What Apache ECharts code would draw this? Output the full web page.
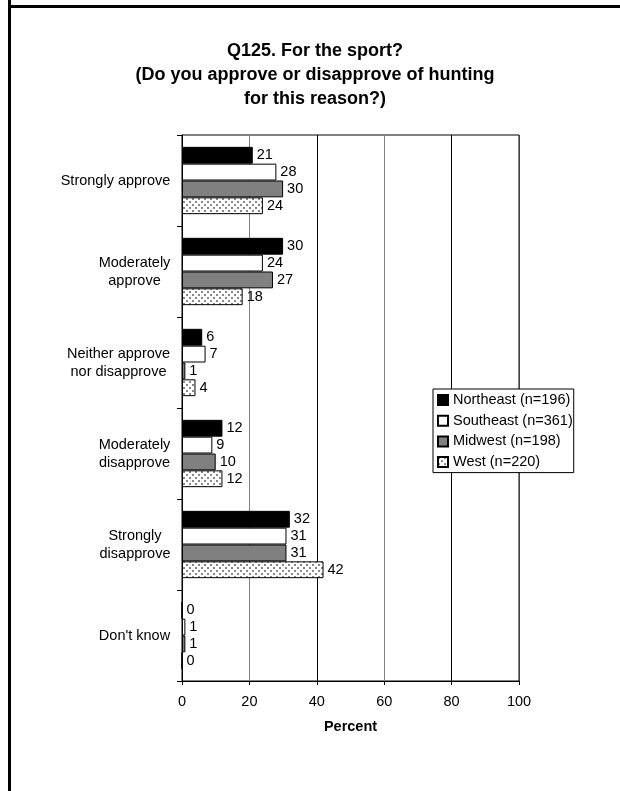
<!DOCTYPE html>
<html>
<head>
<meta charset="utf-8">
<script src="https://cdn.jsdelivr.net/npm/echarts@6/dist/echarts.min.js"></script>
<style>
html,body{margin:0;padding:0;background:#fff;}
#chart{width:620px;height:791px;}
</style>
</head>
<body>
<div id="chart"></div>
<script>
// ---- data ----
var categories = ['Strongly approve', 'Moderately\napprove', 'Neither approve\nnor disapprove', 'Moderately\ndisapprove', 'Strongly\ndisapprove', "Don't know"];
var seriesNames = ['Northeast (n=196)', 'Southeast (n=361)', 'Midwest (n=198)', 'West (n=220)'];
var northeast = [21, 30, 6, 12, 32, 0];
var southeast = [28, 24, 7, 9, 31, 1];
var midwest = [30, 27, 1, 10, 31, 1];
var west = [24, 18, 4, 12, 42, 0];
var xTicks = [0, 20, 40, 60, 80, 100];

var FONT = '"Liberation Sans", Arial, sans-serif';
var FS = 14.5;

// dotted pattern for West
var pat = document.createElement('canvas');
pat.width = 6; pat.height = 6;
var pc = pat.getContext('2d');
pc.fillStyle = '#fff'; pc.fillRect(0, 0, 6, 6);
pc.fillStyle = '#888';
pc.fillRect(0, 0, 2, 2);
pc.fillRect(3, 3, 2, 2);

// measure for centered multi-line category labels
var mc = document.createElement('canvas').getContext('2d');
mc.font = FS + 'px ' + FONT;
var rich = {};
categories.forEach(function (c, i) {
  var w = 0;
  c.split('\n').forEach(function (l) { w = Math.max(w, mc.measureText(l).width); });
  rich['c' + i] = { width: Math.ceil(w) + 1, align: 'center', fontSize: FS, lineHeight: 18, color: '#000', fontFamily: FONT };
});

var fills = ['#000000', '#ffffff', '#808080', { image: pat, repeat: 'repeat' }];
var datas = [northeast, southeast, midwest, west];

var series = seriesNames.map(function (n, i) {
  return {
    name: n,
    type: 'bar',
    data: datas[i],
    barGap: '0%',
    barCategoryGap: '26%',
    itemStyle: { color: fills[i], borderColor: '#000', borderWidth: 1 },
    label: { show: true, position: 'right', distance: 4, color: '#000', fontSize: FS, fontFamily: FONT },
    animation: false
  };
});

var chart = echarts.init(document.getElementById('chart'), null, { renderer: 'canvas' });
chart.setOption({
  backgroundColor: '#fff',
  animation: false,
  title: {
    text: 'Q125. For the sport?\n(Do you approve or disapprove of hunting\nfor this reason?)',
    left: 310, top: 34, textAlign: 'center',
    textStyle: { fontSize: 18, fontWeight: 'bold', fontFamily: FONT, color: '#000', lineHeight: 24 }
  },
  grid: { left: 182, right: 101, top: 135, bottom: 110, show: true, borderColor: '#000', borderWidth: 1, backgroundColor: 'transparent' },
  legend: {
    orient: 'vertical', left: 433, top: 389,
    itemWidth: 10, itemHeight: 10, itemGap: 3.7, itemTextGap: 2,
    padding: [2.5, 1, 2, 4],
    borderColor: '#000', borderWidth: 1, backgroundColor: '#fff',
    textStyle: { fontSize: FS, fontFamily: FONT, color: '#000', lineHeight: 17 },
    icon: 'rect',
    data: seriesNames
  },
  xAxis: {
    type: 'value', min: 0, max: 100, interval: 20,
    name: 'Percent', nameLocation: 'middle', nameGap: 38,
    nameTextStyle: { fontSize: FS, fontWeight: 'bold', fontFamily: FONT, color: '#000' },
    axisLine: { show: true, lineStyle: { color: '#000', width: 1 } },
    axisTick: { show: true, length: 4, lineStyle: { color: '#000' } },
    axisLabel: { fontSize: FS, fontFamily: FONT, color: '#000', margin: 13,
      formatter: function (v) { return xTicks.indexOf(v) >= 0 ? String(v) : ''; } },
    splitLine: { show: true, lineStyle: { color: ['#000', '#808080', '#000', '#808080', '#000', '#444'], width: 1 } }
  },
  yAxis: {
    type: 'category', data: categories, inverse: true,
    axisLine: { show: true, lineStyle: { color: '#000', width: 1 } },
    axisTick: { show: true, length: 5, lineStyle: { color: '#000' } },
    axisLabel: {
      margin: 11, align: 'right', color: '#000', fontSize: FS, fontFamily: FONT,
      formatter: function (v, i) {
        return v.split('\n').map(function (l) { return '{c' + i + '|' + l + '}'; }).join('\n');
      },
      rich: rich
    },
    splitLine: { show: false }
  },
  series: series,
  graphic: [
    { type: 'rect', shape: { x: 8, y: 0, width: 3, height: 791 }, style: { fill: '#000' }, silent: true, z: 100 },
    { type: 'rect', shape: { x: 8, y: 5, width: 612, height: 3 }, style: { fill: '#000' }, silent: true, z: 100 }
  ]
});
</script>
</body>
</html>
